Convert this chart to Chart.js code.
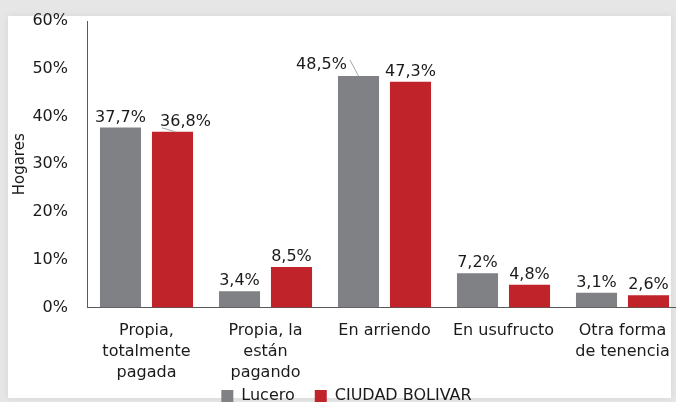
<!DOCTYPE html>
<html>
<head>
<meta charset="utf-8">
<script src="https://cdn.jsdelivr.net/npm/chart.js@4"></script>
<style>
  html, body { margin: 0; padding: 0; }
  body { background: #e6e6e6; width: 676px; height: 402px; overflow: hidden; position: relative; }
  #panel { position: absolute; left: 8px; top: 16px; width: 663px; height: 382px; background: #fff; box-shadow: 0 0 8px rgba(0,0,0,0.07); }
  #wrap { position: absolute; left: 0; top: 0; width: 676px; height: 402px; overflow: hidden; }
  canvas { position: absolute; left: 0; top: 0; }
</style>
</head>
<body>
<div id="panel"></div>
<div id="wrap"><canvas id="tenencia" width="690" height="414"></canvas></div>
<script>
var categorias = [
	['Propia,', 'totalmente', 'pagada'],
	['Propia, la', 'están', 'pagando'],
	'En arriendo',
	'En usufructo',
	['Otra forma', 'de tenencia']
];
var lucero = [37.7, 3.4, 48.5, 7.2, 3.1];
var ciudadBolivar = [36.8, 8.5, 47.3, 4.8, 2.6];
var yTicks = [0, 10, 20, 30, 40, 50, 60];

var fuente = 'DejaVu Sans, Verdana, sans-serif';
var negro = '#1a1a1a';

// etiquetas encima de cada barra (con linea guia cuando se desplazan)
var etiquetas = {
	id: 'etiquetas',
	afterDatasetsDraw: function(chart, args, opts) {
		var ctx = chart.ctx;
		ctx.save();
		ctx.font = '16px ' + fuente;
		ctx.fillStyle = negro;
		ctx.textAlign = 'center';
		ctx.textBaseline = 'alphabetic';
		chart.data.datasets.forEach(function(ds, di) {
			var meta = chart.getDatasetMeta(di);
			meta.data.forEach(function(bar, i) {
				var txt = ds.data[i].toFixed(1).replace('.', ',') + '%';
				var s = (opts.shift[di] && opts.shift[di][i]) || [0, 0];
				var x = bar.x + s[0];
				var y = bar.y - 6 + s[1];
				ctx.fillText(txt, x, y);
				if (s[0] !== 0) {
					var w = ctx.measureText(txt).width;
					ctx.strokeStyle = '#a6a6a6';
					ctx.lineWidth = 1;
					ctx.beginPath();
					if (s[0] < 0) {
						ctx.moveTo(x + w / 2 + 3, y - 9);
						ctx.lineTo(bar.x, bar.y);
					} else {
						ctx.moveTo(x - w / 2 + 2, y + 2);
						ctx.lineTo(bar.x + 3, bar.y);
					}
					ctx.stroke();
				}
			});
		});
		ctx.restore();
	}
};

new Chart(document.getElementById('tenencia'), {
	type: 'bar',
	data: {
		labels: categorias,
		datasets: [{
			label: 'Lucero',
			data: lucero,
			backgroundColor: '#808185',
			borderWidth: 0,
			barPercentage: 0.79,
			categoryPercentage: 0.874
		}, {
			label: 'CIUDAD BOLIVAR',
			data: ciudadBolivar,
			backgroundColor: '#c0232a',
			borderWidth: 0,
			barPercentage: 0.79,
			categoryPercentage: 0.874
		}]
	},
	options: {
		responsive: false,
		animation: false,
		devicePixelRatio: 1,
		layout: { padding: { left: 11, right: 8, top: 21, bottom: 0 } },
		scales: {
			x: {
				grid: { display: false, drawTicks: false },
				border: { display: true, color: '#595959', width: 1 },
				ticks: { color: negro, font: { family: fuente, size: 16, lineHeight: 1.3 }, padding: 13, maxRotation: 0, autoSkip: false },
				afterFit: function(axis) {
					axis.height -= 28;
					// sin recorte de las etiquetas de 3 lineas
					axis._computeLabelArea = function() {};
				}
			},
			y: {
				min: 0,
				max: 60,
				afterBuildTicks: function(axis) {
					axis.ticks = yTicks.map(function(v) { return { value: v }; });
				},
				afterFit: function(axis) {
					axis.width = 76;
					axis.paddingTop = 0;
				},
				grid: { display: false, drawTicks: false },
				border: { display: true, color: '#595959', width: 1 },
				ticks: {
					color: negro,
					font: { family: fuente, size: 16 },
					padding: 19,
					callback: function(v) { return v + '%'; }
				},
				title: { display: true, text: 'Hogares', color: negro, font: { family: fuente, size: 15 }, padding: 0 }
			}
		},
		plugins: {
			legend: {
				position: 'bottom',
				labels: { color: negro, font: { family: fuente, size: 16 }, boxWidth: 12, boxHeight: 12, padding: 20 }
			},
			tooltip: { enabled: false },
			etiquetas: { shift: [[null, null, [-37, -1], null, null], [[13, 0], null, null, null, null]] }
		}
	},
	plugins: [etiquetas]
});
</script>
</body>
</html>
